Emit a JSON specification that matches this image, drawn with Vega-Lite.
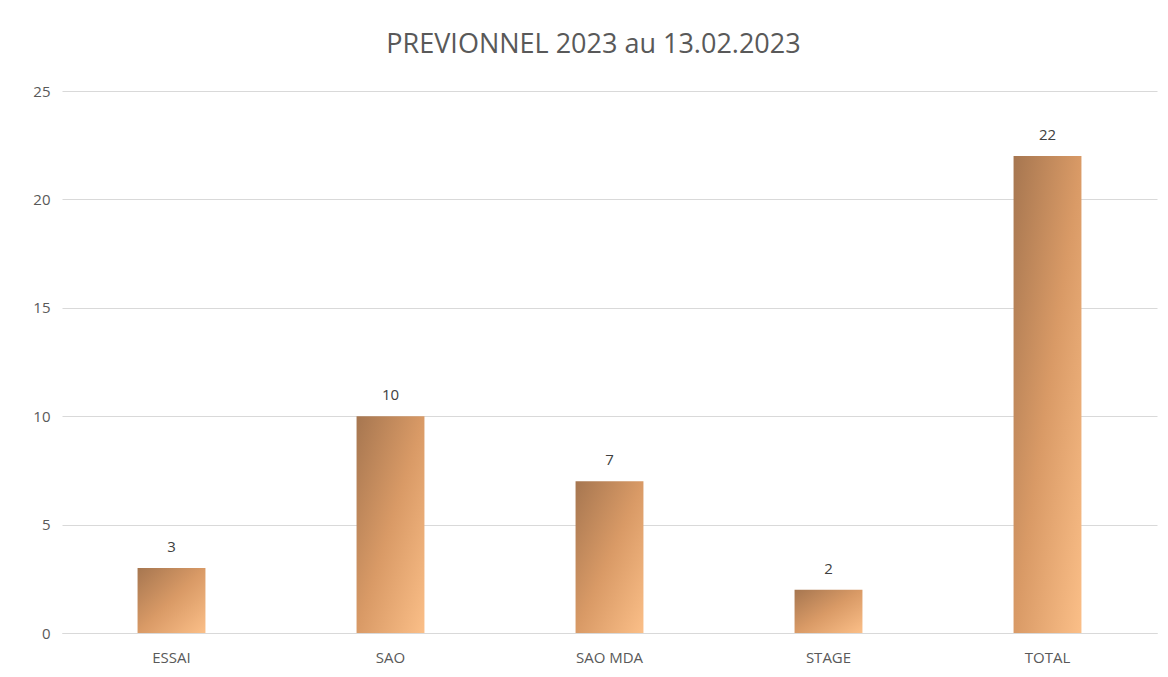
{
  "$schema": "https://vega.github.io/schema/vega-lite/v6.json",
  "width": 1095,
  "height": 542,
  "autosize": {"type": "none"},
  "padding": {"left": 62, "top": 91, "right": 11, "bottom": 44},
  "background": "white",
  "title": {
    "text": "PREVIONNEL 2023 au 13.02.2023",
    "fontSize": 27,
    "font": "Open Sans",
    "fontWeight": "normal",
    "color": "#595959",
    "anchor": "middle",
    "dx": -16,
    "offset": 25
  },
  "data": {
    "values": [
      {"categorie": "ESSAI", "valeur": 3},
      {"categorie": "SAO", "valeur": 10},
      {"categorie": "SAO MDA", "valeur": 7},
      {"categorie": "STAGE", "valeur": 2},
      {"categorie": "TOTAL", "valeur": 22}
    ]
  },
  "config": {
    "view": {"stroke": null},
    "font": "Open Sans"
  },
  "encoding": {
    "x": {
      "field": "categorie",
      "type": "nominal",
      "sort": null,
      "scale": {"paddingInner": 0.69, "paddingOuter": 0.345},
      "axis": {
        "title": null,
        "labelAngle": 0,
        "labelFontSize": 15,
        "labelColor": "#595959",
        "labelFont": "Open Sans",
        "domainColor": "#d9d9d9",
        "ticks": false,
        "labelPadding": 17
      }
    },
    "y": {
      "field": "valeur",
      "type": "quantitative",
      "scale": {"domain": [0, 25]},
      "axis": {
        "title": null,
        "values": [0, 5, 10, 15, 20, 25],
        "labelFontSize": 15,
        "labelColor": "#595959",
        "labelFont": "Open Sans",
        "gridColor": "#d9d9d9",
        "domain": false,
        "ticks": false,
        "labelPadding": 12
      }
    }
  },
  "layer": [
    {
      "mark": {
        "type": "bar",
        "color": {
          "gradient": "linear",
          "x1": 0, "y1": 0, "x2": 1, "y2": 1,
          "stops": [
            {"offset": 0, "color": "#a67650"},
            {"offset": 0.5, "color": "#d99a66"},
            {"offset": 1, "color": "#fbbf88"}
          ]
        }
      }
    },
    {
      "mark": {
        "type": "text",
        "dy": -21,
        "fontSize": 15,
        "color": "#404040",
        "font": "Open Sans"
      },
      "encoding": {"text": {"field": "valeur", "type": "quantitative"}}
    }
  ]
}
